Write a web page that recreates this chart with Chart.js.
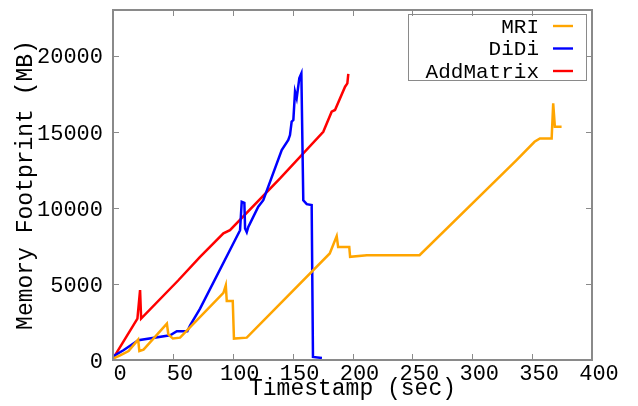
<!DOCTYPE html>
<html lang="en">
<head>
  <meta charset="UTF-8">
  <title>Memory Footprint</title>
  <script src="https://cdn.jsdelivr.net/npm/chart.js"></script>
  <style>
    body {
      margin: 0;
      background: white;
    }
    #wrap {
      width: 638px;
      height: 406px;
    }
  </style>
</head>
<body>
  <div id="wrap"><canvas id="memChart" width="638" height="406"></canvas></div>
  <script>
    // series (seconds, MB)
    const mriTime = [0, 6, 13, 21, 22, 25.5, 45, 46.2, 50, 56, 92.2, 94.2, 95, 100, 101, 111.7, 181, 186.8, 188, 197.3, 198, 212, 256, 337, 352, 356.5, 366.3, 367.6, 369, 374.6];
    const mriMem = [90, 300, 590, 1340, 590, 680, 2390, 1690, 1410, 1470, 4410, 4910, 3880, 3880, 1410, 1470, 7000, 8140, 7430, 7430, 6780, 6890, 6890, 13140, 14340, 14560, 14560, 16870, 15330, 15330];

    const didiTime = [0, 8.7, 21.2, 47.7, 53.3, 62.1, 64.4, 72.7, 106.1, 107.5, 109.7, 110.3, 111.7, 113, 121.3, 125.5, 140.9, 146.4, 147.8, 149.2, 150.6, 152, 153.4, 155.6, 157.3, 158.9, 161.8, 165.9, 167, 174.5];
    const didiMem = [240, 640, 1300, 1625, 1890, 1890, 2280, 3380, 8530, 10400, 10330, 8640, 8400, 8750, 10070, 10500, 13800, 14460, 14780, 15660, 15770, 17630, 17200, 18530, 18840, 10500, 10240, 10180, 200, 130];

    const addTime = [0, 20.4, 22.6, 23.5, 54.6, 72.7, 92.2, 97.7, 139.5, 175.6, 182.6, 185.4, 193.8, 195.7, 196.5];
    const addMem = [90, 2720, 4590, 2720, 5240, 6780, 8320, 8530, 11930, 15000, 16320, 16430, 17960, 18180, 18800];

    const xTicks = [0, 50, 100, 150, 200, 250, 300, 350, 400];
    const yTicks = [0, 5000, 10000, 15000, 20000];

    const mono = "'Liberation Mono', 'DejaVu Sans Mono', monospace";
    const axisGray = '#8a8a8a';

    const toPoints = (xs, ys) => xs.map((x, i) => ({ x: x, y: ys[i] }));

    // gnuplot style box with inward ticks on all sides, plus the legend
    const frame = {
      id: 'frame',
      afterDraw(chart) {
        const c = chart.ctx;
        const a = chart.chartArea;
        const xs = chart.scales.x;
        const ys = chart.scales.y;
        c.save();
        c.strokeStyle = axisGray;
        c.lineWidth = 2;
        c.strokeRect(a.left, a.top, a.right - a.left, a.bottom - a.top);
        c.lineWidth = 1;
        c.beginPath();
        xTicks.forEach(v => {
          const px = Math.round(xs.getPixelForValue(v)) + 0.5;
          c.moveTo(px, a.bottom); c.lineTo(px, a.bottom - 6);
          c.moveTo(px, a.top); c.lineTo(px, a.top + 6);
        });
        yTicks.forEach(v => {
          const py = Math.round(ys.getPixelForValue(v)) + 0.5;
          c.moveTo(a.left, py); c.lineTo(a.left + 6, py);
          c.moveTo(a.right, py); c.lineTo(a.right - 6, py);
        });
        c.stroke();

        // legend
        c.strokeStyle = axisGray;
        c.lineWidth = 1;
        c.strokeRect(408.5, 14.5, 178, 66);
        c.font = '21px ' + mono;
        c.textAlign = 'right';
        c.textBaseline = 'middle';
        chart.data.datasets.forEach((ds, i) => {
          const y = 26 + i * 22.5;
          c.fillStyle = '#000';
          c.fillText(ds.label, 539, y + 1);
          c.strokeStyle = ds.borderColor;
          c.lineWidth = 2.4;
          c.beginPath();
          c.moveTo(553, y); c.lineTo(573, y);
          c.stroke();
        });
        c.restore();
      }
    };

    const ctx = document.getElementById('memChart').getContext('2d');
    new Chart(ctx, {
      type: 'line',
      data: {
        datasets: [
          { label: 'MRI', data: toPoints(mriTime, mriMem), borderColor: '#ffa500' },
          { label: 'DiDi', data: toPoints(didiTime, didiMem), borderColor: '#0000ff' },
          { label: 'AddMatrix', data: toPoints(addTime, addMem), borderColor: '#ff0000' }
        ]
      },
      options: {
        responsive: false,
        animation: false,
        parsing: false,
        elements: {
          point: { radius: 0 },
          line: { borderWidth: 2.5, tension: 0 }
        },
        layout: { padding: { left: 0, right: 46, top: 10, bottom: 0 } },
        plugins: {
          legend: { display: false },
          tooltip: { enabled: false }
        },
        scales: {
          x: {
            type: 'linear',
            min: 0,
            max: 400,
            afterBuildTicks: s => { s.ticks = xTicks.map(v => ({ value: v })); },
            afterFit: s => { s.height = 46; s.paddingLeft = 0; s.paddingRight = 0; },
            grid: { display: false, drawTicks: false },
            border: { display: false },
            ticks: {
              color: '#000',
              font: { family: mono, size: 22 },
              padding: 1,
              labelOffset: 7,
              maxRotation: 0,
              callback: v => String(v)
            },
            title: {
              display: true,
              text: 'Timestamp (sec)',
              color: '#000',
              font: { family: mono, size: 23 },
              padding: { top: 0, bottom: 3 }
            }
          },
          y: {
            min: 0,
            max: 23000,
            afterBuildTicks: s => { s.ticks = yTicks.map(v => ({ value: v })); },
            afterFit: s => { s.width = 113; s.paddingTop = 0; s.paddingBottom = 0; },
            grid: { display: false, drawTicks: false },
            border: { display: false },
            ticks: {
              color: '#000',
              font: { family: mono, size: 22 },
              padding: 10,
              labelOffset: 2,
              callback: v => String(v)
            },
            title: {
              display: true,
              text: 'Memory Footprint (MB)',
              color: '#000',
              font: { family: mono, size: 23 },
              padding: { top: 12, bottom: 0 }
            }
          }
        }
      },
      plugins: [frame]
    });
  </script>
</body>
</html>
